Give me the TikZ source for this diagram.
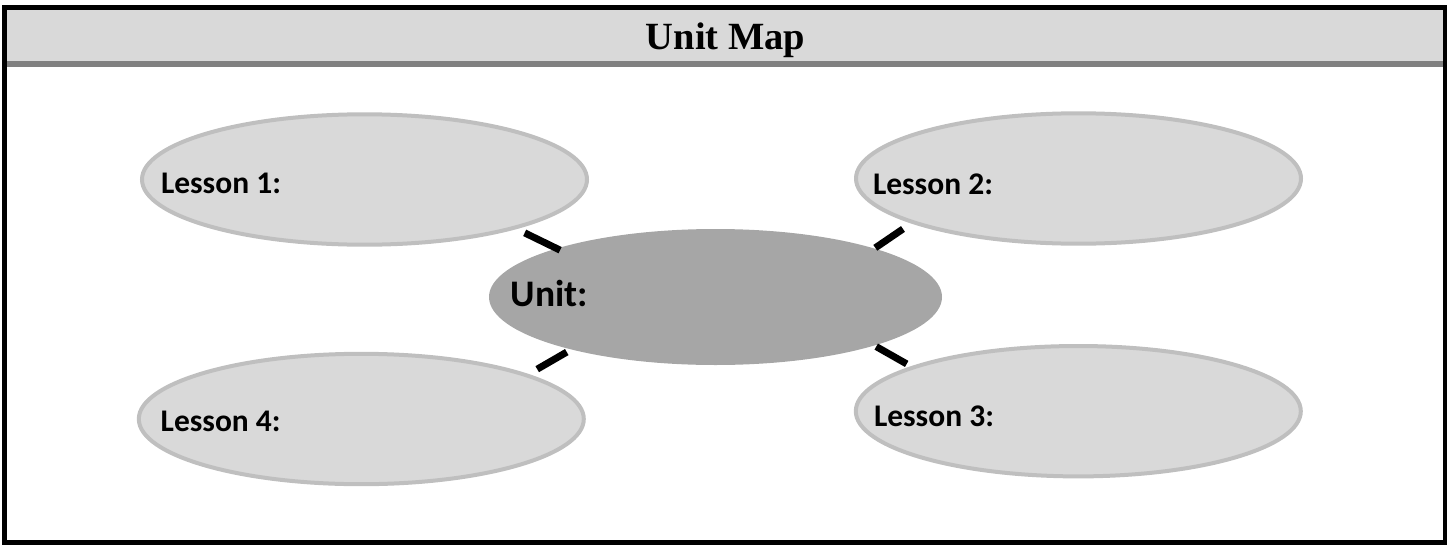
\documentclass[tikz,border=0pt]{standalone}
\usepackage{fontspec}
\setmainfont{Liberation Serif}
\newfontfamily\calibrifont{Carlito}
\usetikzlibrary{shapes.geometric}
\definecolor{lessonfill}{HTML}{D9D9D9}
\definecolor{lessonedge}{HTML}{BFBFBF}
\definecolor{unitfill}{HTML}{A6A6A6}
\definecolor{headfill}{HTML}{D9D9D9}
\definecolor{headbar}{HTML}{808080}
\begin{document}
\begin{tikzpicture}[x=1pt,y=-1pt,
  lesson/.style={ellipse, draw=lessonedge, line width=4pt, fill=lessonfill,
    minimum width=445pt, minimum height=130.4pt, inner sep=0pt},
  unitshape/.style={ellipse, fill=unitfill, minimum width=453pt,
    minimum height=136pt, inner sep=0pt},
  ltext/.style={anchor=base west, inner sep=0pt,
    font=\calibrifont\bfseries\fontsize{31.5}{38}\selectfont},
  utext/.style={anchor=base west, inner sep=0pt,
    font=\calibrifont\bfseries\fontsize{37.5}{45}\selectfont},
  conn/.style={line width=7pt, black}]
\useasboundingbox (0,0) rectangle (1449,544);
% header
\fill[headfill] (7,9) rectangle (1443,61);
\fill[headbar] (7,60.7) rectangle (1443,66.7);
\node[anchor=base, inner sep=0pt, font=\bfseries\fontsize{38.5}{46}\selectfont] (title) at (725.5,49.3) {Unit Map};
% ellipses
\node[lesson] (L1) at (364.5,179.5) {};
\node[lesson] (L2) at (1078.5,178.5) {};
\node[lesson] (L3) at (1078.3,411.2) {};
\node[lesson] (L4) at (361.3,419) {};
\node[unitshape] (U) at (715.5,297) {};
% texts
\node[ltext] (t1) at (160.8,193.3) {Lesson 1:};
\node[ltext] (t2) at (872.8,194.3) {Lesson 2:};
\node[ltext] (t3) at (873.8,426) {Lesson 3:};
\node[ltext] (t4) at (160.5,431.7) {Lesson 4:};
\node[utext] (tu) at (510.6,306.7) {Unit:};
% connectors
\draw[conn, shorten <=9pt, shorten >=-4pt] (L1.-18.4) -- (U.163.8);
\draw[conn, shorten <=10pt, shorten >=1pt] (L2.195.9) -- (U.17);
\draw[conn, shorten <=10pt, shorten >=5pt] (L4.15.1) -- (U.200.3);
\draw[conn, shorten <=5pt, shorten >=2pt] (L3.165.1) -- (U.-17.5);
% frame
\draw[line width=4.8pt] (4.5,7.2) rectangle (1445,542.3);
\end{tikzpicture}
\end{document}
